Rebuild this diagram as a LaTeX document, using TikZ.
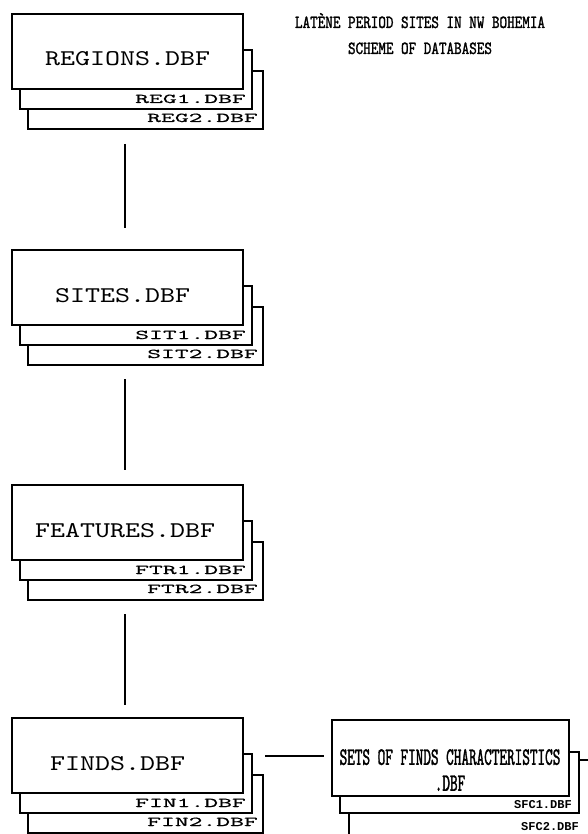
\documentclass[tikz,border=0pt]{standalone}
\usepackage{fontspec}
\newfontfamily\monof[FakeStretch=1.27]{lmmono10-regular.otf}
\newfontfamily\widef[FakeStretch=1.95,FakeBold=0.6]{lmmono10-regular.otf}
\newfontfamily\titlef[FakeStretch=0.78,FakeBold=1.4]{lmmono10-regular.otf}
\newfontfamily\setsf[FakeStretch=0.58,FakeBold=1.4]{lmmono10-regular.otf}
\newfontfamily\sfcf{Liberation Mono}
\usetikzlibrary{calc}
\tikzset{
  box/.style={draw, fill=white, line width=1.1pt, inner sep=0pt, outer sep=0pt, anchor=north west},
  bigtext/.style={font=\monof\fontsize{22.5}{27}\selectfont, anchor=base west, inner sep=0pt},
  smalltext/.style={font=\widef\fontsize{13.5}{16}\selectfont, anchor=base east, inner sep=0pt},
  sfctext/.style={font=\sfcf\bfseries\fontsize{12}{14}\selectfont, anchor=base east, inner sep=0pt},
  titletext/.style={font=\titlef\fontsize{18.5}{22}\selectfont, anchor=base, inner sep=0pt},
  setstext/.style={font=\setsf\fontsize{25}{26}\selectfont, align=center, anchor=north, inner sep=0pt},
  conn/.style={line width=1.1pt}
}
\newcommand\mystack[6]{% name, top y, big text, text x, small1, small2
  \node[box, minimum width=235pt, minimum height=58pt] (#13) at (28,#2+57) {};
  \node[box, minimum width=232pt, minimum height=59pt] (#12) at (20,#2+36) {};
  \node[box, minimum width=231pt, minimum height=75pt] (#1) at (12,#2) {};
  \node[bigtext] (#1t) at (#4,#2+52) {#3};
  \node[smalltext] (#1a) at (246,#2+89) {#5};
  \node[smalltext] (#1b) at (258,#2+108) {#6};
}
\begin{document}
\begin{tikzpicture}[x=1pt,y=-1pt]
\useasboundingbox (0,0) rectangle (587,834);
\fill[white] (0,0) rectangle (587,834);

\node[titletext] (t1) at (420,28) {LATÈNE PERIOD SITES IN NW BOHEMIA};
\node[titletext] (t2) at (420,54) {SCHEME OF DATABASES};

\mystack{reg}{14}{REGIONS.DBF}{45}{REG1.DBF}{REG2.DBF}
\mystack{sit}{250}{SITES.DBF}{55}{SIT1.DBF}{SIT2.DBF}
\mystack{ftr}{485}{FEATURES.DBF}{35}{FTR1.DBF}{FTR2.DBF}
\mystack{fin}{718}{FINDS.DBF}{50}{FIN1.DBF}{FIN2.DBF}

% sets of finds characteristics
\node[box, minimum width=271pt, minimum height=100pt] (sfc3) at (349,760) {};
\node[box, minimum width=239pt, minimum height=61pt] (sfc2) at (340,752) {};
\node[box, minimum width=237pt, minimum height=76pt] (sfc) at (332,720) {};
\node[setstext] (sfct) at (450,749) {SETS OF FINDS CHARACTERISTICS\\.DBF};
\node[sfctext] (sfca) at (572,808) {SFC1.DBF};
\node[sfctext] (sfcb) at (579,830) {SFC2.DBF};

% connectors
\draw[conn, shorten <=15pt, shorten >=22pt] ([xshift=-2.5pt]reg.south |- reg3.south) -- ([xshift=-2.5pt]sit.north);
\draw[conn, shorten <=14pt, shorten >=15pt] ([xshift=-2.5pt]sit.south |- sit3.south) -- ([xshift=-2.5pt]ftr.north);
\draw[conn, shorten <=14pt, shorten >=13pt] ([xshift=-2.5pt]ftr.south |- ftr3.south) -- ([xshift=-2.5pt]fin.north);
\draw[conn, shorten <=2pt, shorten >=8pt] (fin3.east |- 0,756) -- (sfc.west |- 0,756);
\end{tikzpicture}
\end{document}
